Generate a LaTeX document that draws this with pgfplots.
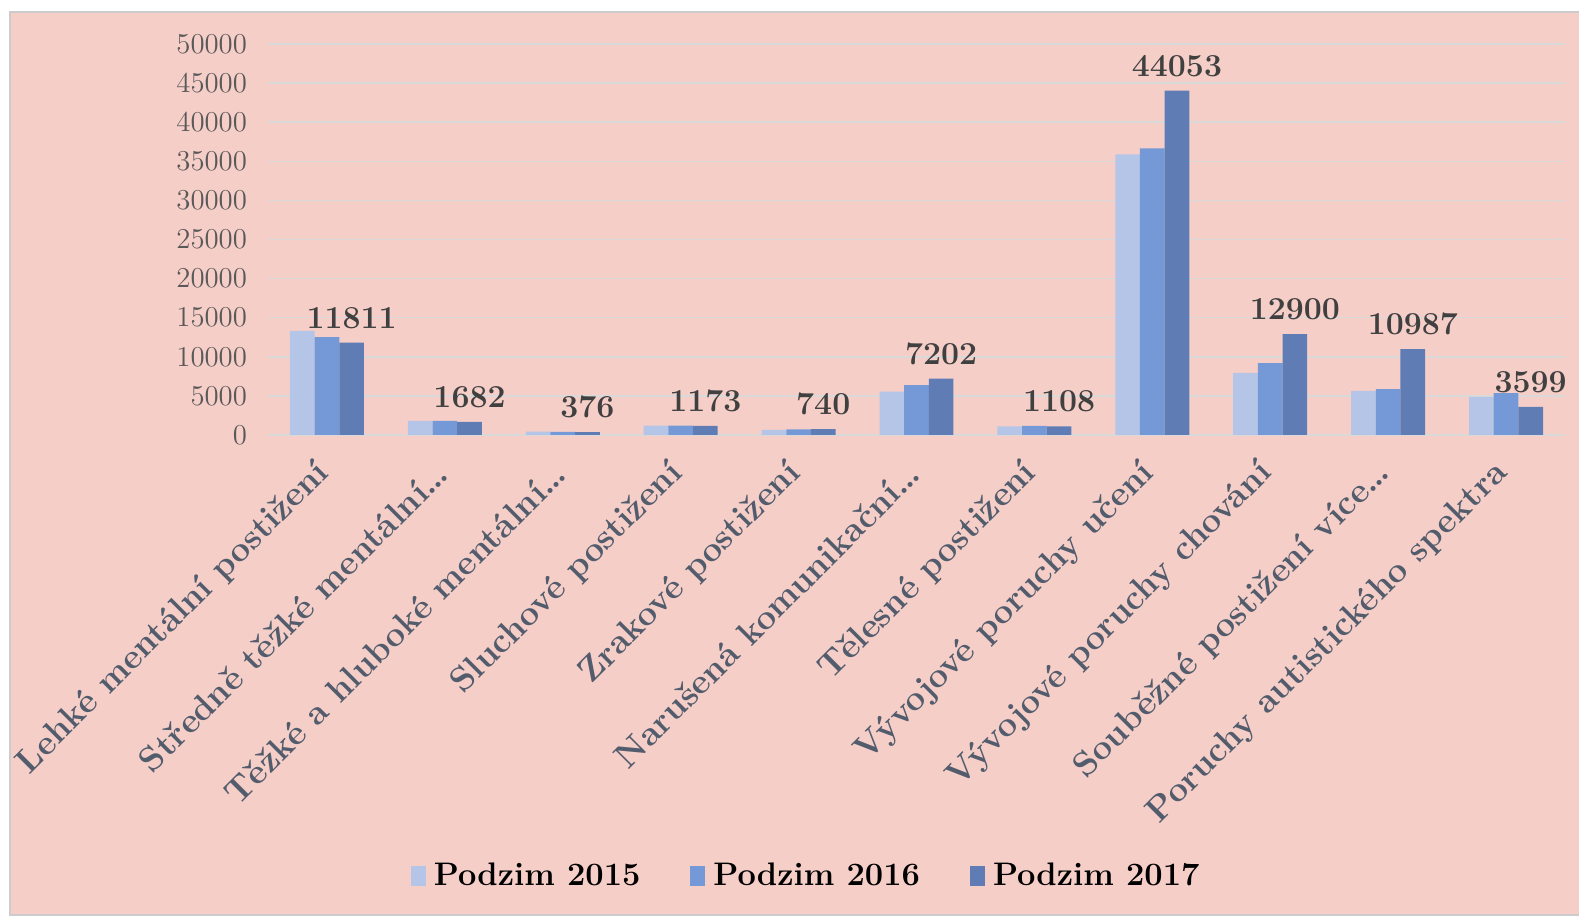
\documentclass[border=0pt]{standalone}
\usepackage{pgfplots}
\pgfplotsset{compat=1.18}
\definecolor{bg}{RGB}{246,206,200}
\definecolor{cA}{RGB}{180,197,231}
\definecolor{cB}{RGB}{117,153,214}
\definecolor{cC}{RGB}{95,125,180}
\definecolor{gridc}{RGB}{217,217,217}
\definecolor{tickc}{RGB}{89,89,89}
\definecolor{labc}{RGB}{64,64,64}
\definecolor{xlabc}{RGB}{82,92,108}
\pgfplotstableread{
x y15 y16 y17
0 13300 12530 11811
1 1790 1800 1682
2 420 410 376
3 1190 1200 1173
4 640 720 740
5 5540 6390 7202
6 1110 1170 1108
7 35900 36660 44053
8 7930 9200 12900
9 5630 5880 10987
10 4860 5370 3599
}\datatable
\begin{document}
\begin{tikzpicture}
\useasboundingbox (0pt,0pt) rectangle (789.5pt,459.5pt);
\fill[black!20] (4.5pt,1.5pt) rectangle (789.5pt,454pt);
\fill[bg] (5.5pt,2.5pt) rectangle (789.5pt,453pt);
\begin{axis}[
  at={(134pt,242pt)}, anchor=south west,
  scale only axis, width=648.5pt, height=195.5pt,
  xmin=-0.5, xmax=10.5, ymin=0, ymax=50000,
  ybar=0pt, bar width=12.33pt,
  axis line style={draw=none}, major tick length=0pt,
  ymajorgrids, grid style={gridc, line width=0.75pt},
  ytick={0,5000,...,50000},
  scaled y ticks=false,
  /pgf/number format/1000 sep={},
  yticklabel style={font=\fontsize{13.5}{15}\selectfont, text=tickc, xshift=-7pt},
  xtick={0,...,10},
  xticklabels={Lehké mentální postižení, Středně těžké mentální\ldots, Těžké a hluboké mentální\ldots, Sluchové postižení, Zrakové postižení, Narušená komunikační\ldots, Tělesné postižení, Vývojové poruchy učení, Vývojové poruchy chování, Souběžné postižení více\ldots, Poruchy autistického spektra},
  xticklabel style={font=\bfseries\fontsize{17.3}{20}\selectfont, text=xlabc, rotate=45, anchor=east, inner sep=2pt},
  xticklabel shift=15pt,
  clip=false,
  legend columns=3,
  legend style={at={(0.415,-1.128)}, anchor=center, draw=none, fill=none,
    font=\bfseries\fontsize{16.3}{18}\selectfont, text=black,
    nodes={inner sep=1pt},
    /tikz/every odd column/.append style={column sep=3pt},
    /tikz/every even column/.append style={column sep=24pt}},
  legend image code/.code={\fill[#1] (0pt,-5pt) rectangle (7.5pt,5pt);},
]
\addplot[fill=cA, draw=none] table[x=x, y=y15] {\datatable};
\addplot[fill=cB, draw=none] table[x=x, y=y16] {\datatable};
\addplot[fill=cC, draw=none,
  nodes near coords={\pgfmathprintnumber[assume math mode=true]{\pgfplotspointmeta}},
  every node near coord/.append style={font=\bfseries\fontsize{16}{18}\selectfont, text=labc, yshift=3.5pt}]
  table[x=x, y=y17] {\datatable};
\legend{Podzim 2015, Podzim 2016, Podzim 2017}
\end{axis}
\end{tikzpicture}
\end{document}
